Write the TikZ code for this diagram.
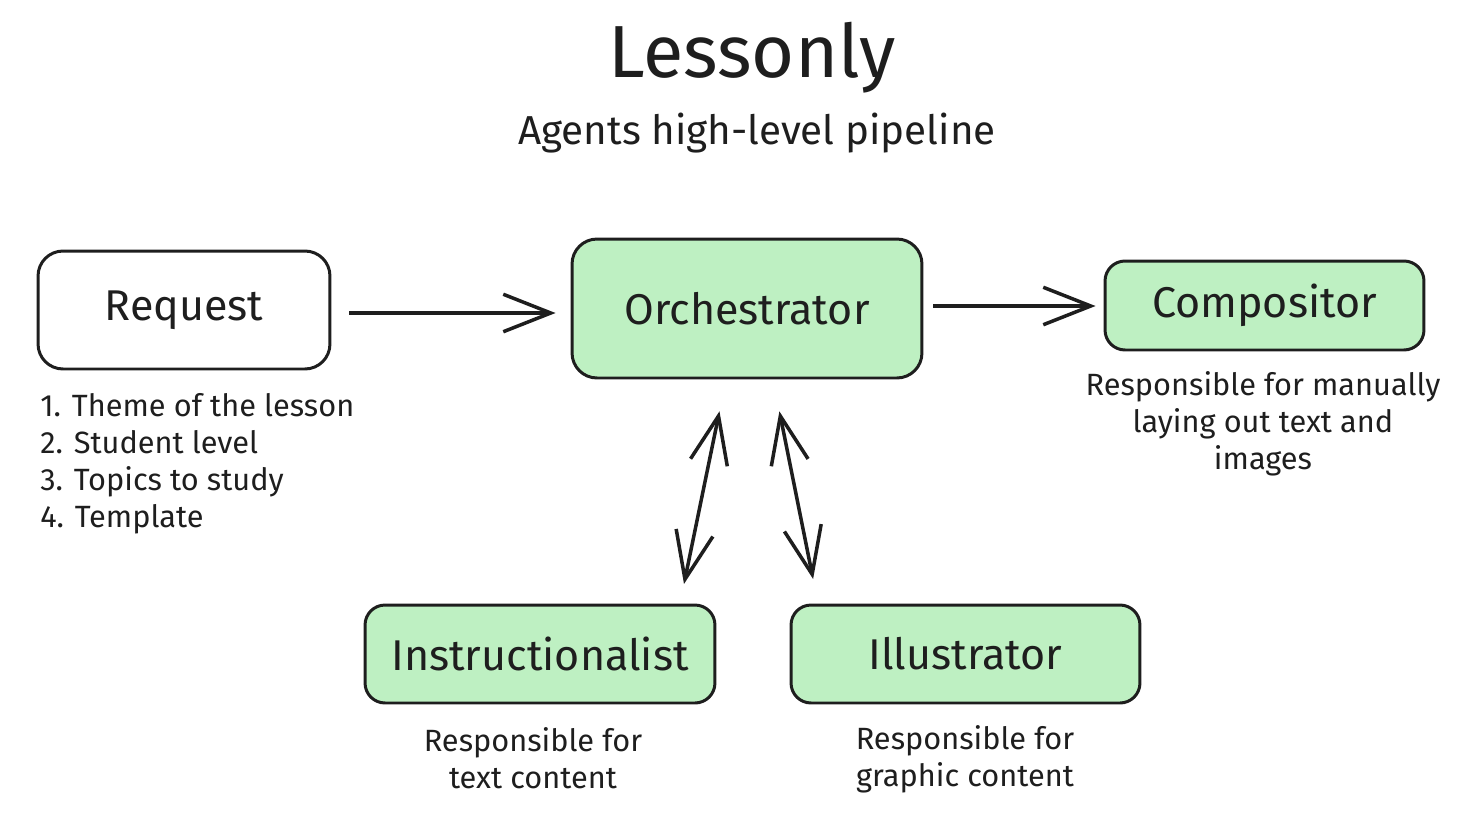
\documentclass[tikz,border=0pt]{standalone}
\usepackage{fontspec}
\setmainfont{Fira Sans}
\usetikzlibrary{arrows.meta}
\definecolor{agentgreen}{RGB}{190,240,194}
\definecolor{inkblack}{RGB}{30,30,30}
\begin{document}
\begin{tikzpicture}[
                x=0.02cm, y=-0.02cm,
                box/.style={
                    draw=inkblack,
                    fill=white,
                    rectangle,
                    rounded corners=0.5cm,
                    line width=1.7pt,
                    inner sep=0pt,
                    align=center,
                    text=inkblack,
                    font=\fontsize{24.5}{28}\selectfont
                },
                agentbox/.style={
                    box,
                    fill=agentgreen
                },
                caption/.style={
                    align=center,
                    inner sep=0pt,
                    text=inkblack,
                    font=\fontsize{17.5}{21}\selectfont
                },
                arrow/.style={
                    -{Straight Barb[length=0.95cm,width=0.75cm,line width=2pt]},
                    line width=2pt,
                    draw=inkblack
                },
                dblarrow/.style={
                    {Straight Barb[length=0.95cm,width=0.75cm,line width=2pt]}-{Straight Barb[length=0.95cm,width=0.75cm,line width=2pt]},
                    line width=2pt,
                    draw=inkblack
                }
            ]
                \useasboundingbox (0,0) rectangle (1458,816);

                \node[text=inkblack, font=\fontsize{42}{46}\selectfont] (title) at (752,58) {Lessonly};
                \node[text=inkblack, font=\fontsize{23}{27}\selectfont] (subtitle) at (757,133) {Agents high-level pipeline};

                \node[box, minimum width=5.84cm, minimum height=2.36cm] (request) at (184,310) {Request};
                \node[agentbox, minimum width=7cm, minimum height=2.78cm] (orch) at (747,308.5) {Orchestrator};
                \node[agentbox, rounded corners=0.4cm, minimum width=6.38cm, minimum height=1.78cm] (comp) at (1264.5,305.5) {Compositor};
                \node[agentbox, rounded corners=0.4cm, minimum width=7cm, minimum height=1.96cm] (instr) at (540,654) {Instructionalist};
                \node[agentbox, rounded corners=0.4cm, minimum width=6.98cm, minimum height=1.96cm] (illus) at (965.5,654) {Illustrator};

                \node[caption, align=left, anchor=north west] (inputs) at (40,393) {1. Theme of the lesson\\2. Student level\\3. Topics to study\\4. Template};
                \node[caption] (compnote) at (1263,424) {Responsible for manually\\laying out text and\\images};
                \node[caption] (instrnote) at (533,758) {Responsible for\\text content};
                \node[caption] (illusnote) at (965,759) {Responsible for\\graphic content};

                \draw[arrow, shorten <=0.36cm, shorten >=0.3cm] ([yshift=-0.06cm]request.east) -- ([yshift=-0.06cm]request.east -| orch.west);
                \draw[arrow, shorten <=0.2cm, shorten >=0.16cm] ([yshift=0.05cm]orch.east) -- ([yshift=0.05cm]orch.east -| comp.west);
                \draw[dblarrow, shorten <=0.65cm, shorten >=0.4cm] ([xshift=-0.42cm]orch.south) -- ([xshift=2.8cm]instr.north);
                \draw[dblarrow, shorten <=0.65cm, shorten >=0.5cm] ([xshift=0.52cm]orch.south) -- ([xshift=-2.95cm]illus.north);
        \end{tikzpicture}
\end{document}
